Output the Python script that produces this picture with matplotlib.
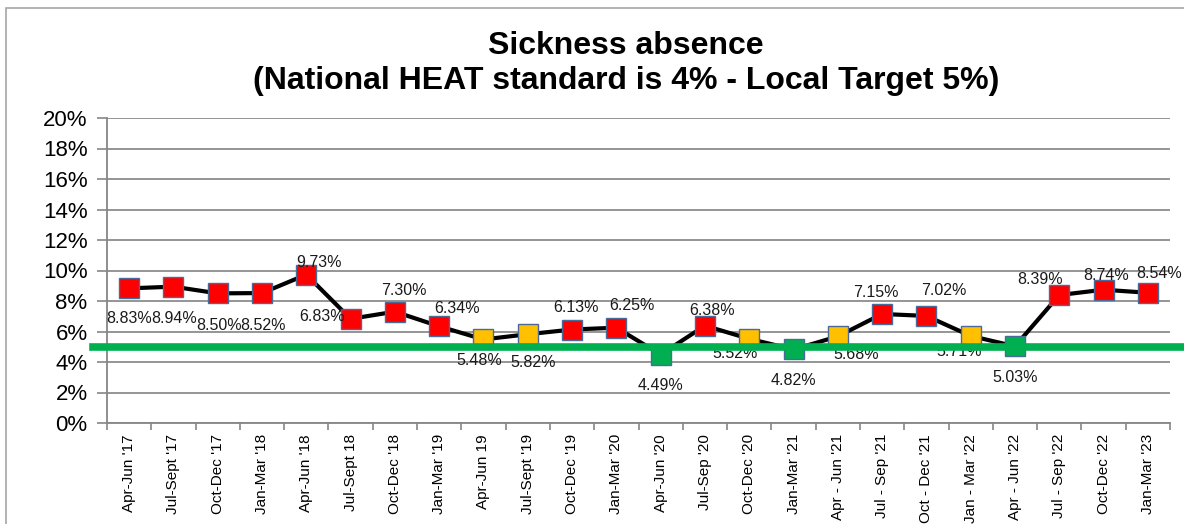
import matplotlib
matplotlib.use("Agg")
import matplotlib.pyplot as plt
from matplotlib.patches import Rectangle

categories = ["Apr-Jun '17", "Jul-Sept '17", "Oct-Dec '17", "Jan-Mar '18", "Apr-Jun '18",
              "Jul-Sept 18", "Oct-Dec '18", "Jan-Mar '19", "Apr-Jun 19", "Jul-Sept '19",
              "Oct-Dec '19", "Jan-Mar '20", "Apr-Jun '20", "Jul-Sep '20", "Oct-Dec '20",
              "Jan-Mar '21", "Apr - Jun '21", "Jul - Sep '21", "Oct - Dec '21", "Jan - Mar '22",
              "Apr - Jun '22", "Jul - Sep '22", "Oct-Dec '22", "Jan-Mar '23"]
values = [8.83, 8.94, 8.50, 8.52, 9.73, 6.83, 7.30, 6.34, 5.48, 5.82, 6.13, 6.25,
          4.49, 6.38, 5.52, 4.82, 5.68, 7.15, 7.02, 5.71, 5.03, 8.39, 8.74, 8.54]
status = ["R", "R", "R", "R", "R", "R", "R", "R", "A", "A", "R", "R",
          "G", "R", "A", "G", "A", "R", "R", "A", "G", "R", "R", "R"]
target = 5.0
yticks = [0, 2, 4, 6, 8, 10, 12, 14, 16, 18, 20]

# label offsets in pixels (dx right, dy up)
label_off = [(0, -30), (1, -32), (1, -32), (1, -32), (13, 12), (-29, 2), (9, 21), (18, 18),
             (-4, -21), (5, -28), (4, 22), (16, 22), (0, -31), (7, 15), (-14, -15), (0, -31),
             (18, -18), (-6, 21), (17, 25), (-12, -16), (0, -31), (-19, 16), (3, 14), (11, 19)]

colors = {"R": "#FF0000", "A": "#FFC000", "G": "#00B050"}

plt.rcParams['font.family'] = ['Liberation Sans', 'DejaVu Sans']

fig = plt.figure(figsize=(11.84, 5.24), dpi=100)
fig.patches.append(Rectangle((6 / 1184, -0.2), 1.2, (524 - 8) / 524 + 0.2,
                             transform=fig.transFigure, fill=False,
                             edgecolor="#A6A6A6", linewidth=1.2))

ax = fig.add_axes([107 / 1184, (524 - 423) / 524, (1170 - 107) / 1184, (423 - 118) / 524])
x = list(range(len(categories)))
ax.plot(x, values, color="black", linewidth=3, zorder=3)
for xi, v, s in zip(x, values, status):
    ax.plot(xi, v, marker="s", markersize=14.5, markerfacecolor=colors[s],
            markeredgecolor="#4A6A9A", markeredgewidth=1.0, zorder=4, linestyle="none")
for xi, v, (dx, dy) in zip(x, values, label_off):
    ax.annotate(f"{v:.2f}%", (xi, v), xytext=(dx, dy), textcoords="offset pixels",
                ha="center", va="center", fontsize=11.5, color="#1A1A1A", zorder=5)

ax.axhline(target, xmin=-0.013, xmax=1.05, color="#00B050", linewidth=5.5,
           clip_on=False, zorder=6)

ax.set_xlim(-0.5, len(categories) - 0.5)
ax.set_ylim(0, 20)
ax.set_yticks(yticks)
ax.set_yticklabels([f"{t}%" for t in yticks], fontsize=16)
ax.set_xticks(x)
ax.set_xticklabels(categories, rotation=90, fontsize=11)
ax.set_xticks([i - 0.5 for i in range(len(categories) + 1)], minor=True)
ax.tick_params(axis="x", which="major", length=0, pad=8)
ax.tick_params(axis="x", which="minor", length=5, color="#868686", width=1.2)
ax.tick_params(axis="y", length=7, color="#868686", width=1.2, pad=7)
ax.grid(axis="y", color="#8C8C8C", linewidth=1.3)
ax.set_axisbelow(True)
for s in ["top", "right"]:
    ax.spines[s].set_visible(False)
for s in ["left", "bottom"]:
    ax.spines[s].set_color("#868686")
    ax.spines[s].set_linewidth(1.3)

fig.text(626 / 1184, 1 - 46 / 524, "Sickness absence", ha="center", va="center",
         fontsize=23, fontweight="bold")
fig.text(626 / 1184, 1 - 81 / 524, "(National HEAT standard is 4% - Local Target 5%)",
         ha="center", va="center", fontsize=23, fontweight="bold")

fig.savefig("out.png", dpi=100)
